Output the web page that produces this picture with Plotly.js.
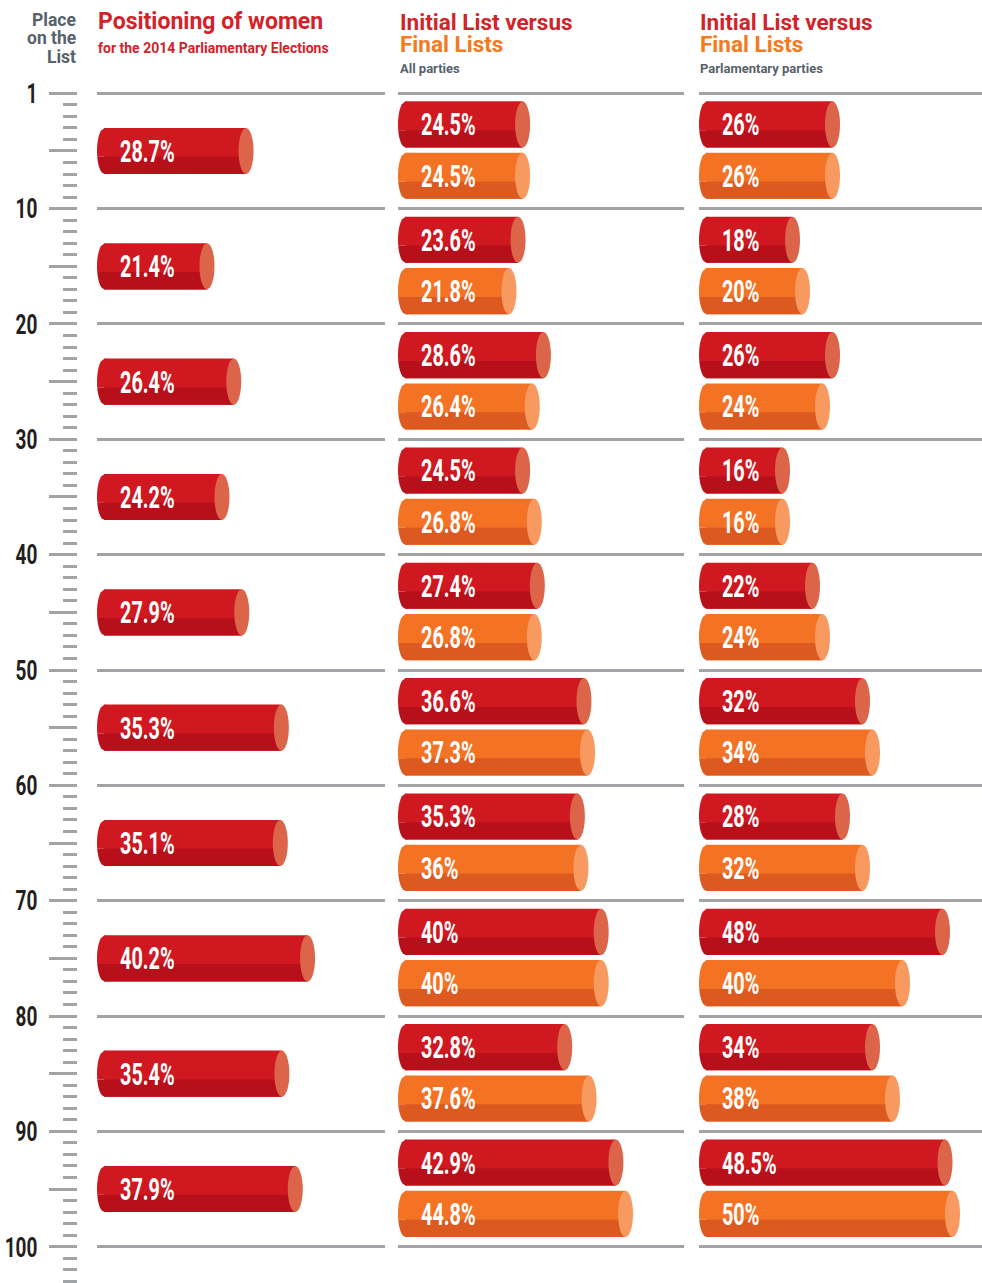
<!DOCTYPE html>
<html><head><meta charset="utf-8">
<script src="https://cdn.plot.ly/plotly-3.0.1.min.js"></script>
<style>html,body{margin:0;padding:0;background:#fff}#chart{width:982px;height:1283px}</style>
</head><body><div id="chart"></div>
<script>
// ---------- DATA ----------
const placeGroups = ['1-10','11-20','21-30','31-40','41-50','51-60','61-70','71-80','81-90','91-100'];
const placeTickVals = [0,10,20,30,40,50,60,70,80,90,100];
const placeTickText = ['1','10','20','30','40','50','60','70','80','90','100'];
const positioningWomen = [28.7, 21.4, 26.4, 24.2, 27.9, 35.3, 35.1, 40.2, 35.4, 37.9];
const allPartiesInitial = [24.5, 23.6, 28.6, 24.5, 27.4, 36.6, 35.3, 40, 32.8, 42.9];
const allPartiesFinal   = [24.5, 21.8, 26.4, 26.8, 26.8, 37.3, 36, 40, 37.6, 44.8];
const parlPartiesInitial = [26, 18, 26, 16, 22, 32, 28, 48, 34, 48.5];
const parlPartiesFinal   = [26, 20, 24, 16, 24, 34, 32, 40, 38, 50];

// ---------- LAYOUT CONSTANTS ----------
const W = 982, H = 1283;
const Y0PX = 93.3, PXU = 11.534;
const yRange = [(H - Y0PX) / PXU, -Y0PX / PXU];
const RX = 7.5;          // cap ellipse half-width in px
const BAR_H = 4, DARK_H = 1.5;
const GRID = '#a2a3a6';
const NUMFONT = 'Roboto, "Open Sans", sans-serif';
const HEADFONT = 'Roboto, "Open Sans", sans-serif';
const LABEL_SQUEEZE = 0.62, TICK_SQUEEZE = 0.68;

const palette = {
  red:    {body:'#cf1820', dark:'#b8101b', cap:'#dc6449'},
  orange: {body:'#f37224', dark:'#dc5a1f', cap:'#f89a5f'}
};

const panels = [
  {xa:'x',  ya:'y',  dom:[97,385],  zeroPx:92.5,  scale:5.35,
   series:[{vals:positioningWomen, col:'red', off:5}]},
  {xa:'x2', ya:'y2', dom:[398,684], zeroPx:398.4, scale:5.07,
   series:[{vals:allPartiesInitial, col:'red', off:2.7},{vals:allPartiesFinal, col:'orange', off:7.15}]},
  {xa:'x3', ya:'y3', dom:[699,982], zeroPx:702.5, scale:5.0,
   series:[{vals:parlPartiesInitial, col:'red', off:2.7},{vals:parlPartiesFinal, col:'orange', off:7.15}]}
];

const traces = [], shapes = [], annotations = [];
const fmt = v => String(v) + '%';

function leftArc(yc, vTop, vBot, ry) {
  const n = 10, pts = [];
  for (let i = 0; i <= n; i++) {
    const v = vTop + (vBot - vTop) * i / n;
    const t = Math.max(0, 1 - Math.pow((v - yc) / ry, 2));
    pts.push([-RX * Math.sqrt(t), v]);
  }
  let d = `M 1,${vTop}`;
  pts.forEach(p => { d += ` L ${p[0].toFixed(2)},${p[1].toFixed(3)}`; });
  d += ` L 1,${vBot} Z`;
  return d;
}

panels.forEach(p => {
  const base = (p.dom[0] + RX - p.zeroPx) / p.scale;
  p.range = [(p.dom[0] - p.zeroPx) / p.scale, (p.dom[1] - p.zeroPx) / p.scale];
  p.series.forEach(s => {
    const c = palette[s.col];
    const yc = placeGroups.map((g, i) => i * 10 + s.off);
    traces.push({type:'bar', orientation:'h', xaxis:p.xa, yaxis:p.ya,
      y: yc, x: s.vals.map(v => v - base), base: base, width: BAR_H,
      marker:{color:c.body, line:{width:0}}, hoverinfo:'skip', showlegend:false});
    traces.push({type:'bar', orientation:'h', xaxis:p.xa, yaxis:p.ya,
      y: yc.map(v => v + BAR_H/2 - DARK_H/2), x: s.vals.map(v => v - base), base: base, width: DARK_H,
      marker:{color:c.dark, line:{width:0}}, hoverinfo:'skip', showlegend:false});
    s.vals.forEach((v, i) => {
      const y = yc[i];
      const split = y + BAR_H/2 - DARK_H;
      shapes.push({type:'path', xref:p.xa, yref:p.ya, xsizemode:'pixel', xanchor:base,
        path:leftArc(y, y - BAR_H/2, split, BAR_H/2), fillcolor:c.body, line:{width:0}});
      shapes.push({type:'path', xref:p.xa, yref:p.ya, xsizemode:'pixel', xanchor:base,
        path:leftArc(y, split, y + BAR_H/2, BAR_H/2), fillcolor:c.dark, line:{width:0}});
      shapes.push({type:'circle', xref:p.xa, yref:p.ya, xsizemode:'pixel', xanchor:v,
        x0:-RX, x1:RX, y0:y - BAR_H/2, y1:y + BAR_H/2, fillcolor:c.cap, line:{width:0}});
      annotations.push({xref:p.xa, yref:p.ya, x:base, y:y, xshift:13, yshift:0,
        xanchor:'left', yanchor:'middle', showarrow:false, text:fmt(v),
        font:{family:NUMFONT, size:32, color:'#ffffff', weight:700}});
    });
  });
});
const N_BAR_LABELS = annotations.length;

// invisible trace to keep the 5-step tick axis alive
traces.push({type:'scatter', x:[], y:[], xaxis:'x', yaxis:'y4', hoverinfo:'skip', showlegend:false});

// ---------- HEADERS ----------
const py = px => 1 - px / H;
function head(text, xpx, baselinePx, size, color, anchor) {
  annotations.push({xref:'paper', yref:'paper', x:xpx / W, y:py(baselinePx - size * 0.36),
    xanchor:anchor || 'left', yanchor:'middle', showarrow:false, text:text, align:anchor || 'left',
    font:{family:HEADFONT, size:size, color:color, weight:700}});
}
const RED = '#d2232a', ORANGE = '#f47a20', GRAY = '#56626b';
head('Place', 78, 26.7, 17.5, GRAY, 'right');
head('on the', 78, 44.7, 17.5, GRAY, 'right');
head('List', 78, 63, 17.5, GRAY, 'right');
head('Positioning of women', 96, 30, 23, RED);
head('for the 2014 Parliamentary Elections', 96, 53, 14, RED);
head('Initial List versus', 398, 30.5, 22.5, RED);
head('Final Lists', 398, 52.3, 22.5, ORANGE);
head('All parties', 398, 72.7, 13, GRAY);
head('Initial List versus', 698, 30.5, 22.5, RED);
head('Final Lists', 698, 52.3, 22.5, ORANGE);
head('Parlamentary parties', 698, 72.7, 13, GRAY);

// ---------- AXES ----------
const minorVals = [];
for (let v = 1; v <= 103; v++) if (v % 5 !== 0) minorVals.push(v);
const fiveVals = [];
for (let v = 5; v <= 95; v += 10) fiveVals.push(v);

const layout = {
  width: W, height: H, margin:{l:0, r:0, t:0, b:0},
  paper_bgcolor:'#ffffff', plot_bgcolor:'rgba(0,0,0,0)',
  barmode:'overlay', showlegend:false, hovermode:false,
  shapes: shapes, annotations: annotations,
  yaxis: {range:yRange, anchor:'free', position:77 / W, side:'left',
    tickmode:'array', tickvals:placeTickVals, ticktext:placeTickText,
    ticks:'outside', ticklen:28, tickwidth:3, tickcolor:GRID, ticklabelstandoff:6,
    tickfont:{family:NUMFONT, size:28, color:'#231f20', weight:700},
    showgrid:true, gridcolor:GRID, gridwidth:3, zeroline:false, showline:false,
    minor:{tickmode:'array', tickvals:minorVals, ticks:'outside', ticklen:14, tickwidth:3, tickcolor:GRID, showgrid:false},
    fixedrange:true},
  yaxis4: {range:yRange, overlaying:'y', anchor:'free', position:77 / W, side:'left',
    tickmode:'array', tickvals:fiveVals, ticktext:fiveVals.map(() => ''),
    ticks:'outside', ticklen:28, tickwidth:3, tickcolor:GRID, showticklabels:false,
    showgrid:false, zeroline:false, showline:false, fixedrange:true}
};
panels.forEach((p, i) => {
  const n = i === 0 ? '' : String(i + 1);
  layout['xaxis' + n] = {domain:[p.dom[0] / W, p.dom[1] / W], range:p.range, anchor:'y' + n,
    visible:false, fixedrange:true};
  if (i > 0) {
    layout['yaxis' + n] = {range:yRange, anchor:'x' + n, tickmode:'array', tickvals:placeTickVals,
      showticklabels:false, ticks:'', showgrid:true, gridcolor:GRID, gridwidth:3,
      zeroline:false, showline:false, fixedrange:true};
  }
});

// condense a text element horizontally (the reference uses a condensed typeface)
function squeeze(el, sx, anchorRight) {
  const bb = el.getBBox();
  const x0 = anchorRight ? bb.x + bb.width : bb.x;
  const prev = el.getAttribute('transform') || '';
  el.setAttribute('transform', (prev + ` translate(${x0 * (1 - sx)},0) scale(${sx},1)`).trim());
}

Plotly.newPlot('chart', traces, layout, {staticPlot:true, displayModeBar:false}).then(gd => {
  gd.querySelectorAll('g.annotation').forEach(g => {
    const idx = +g.getAttribute('data-index');
    if (idx < N_BAR_LABELS) {
      const t = g.querySelector('text.annotation-text');
      if (t) squeeze(t, LABEL_SQUEEZE, false);
    }
  });
  gd.querySelectorAll('.yaxislayer-above .ytick text').forEach(t => squeeze(t, TICK_SQUEEZE, true));
});
</script>
</body></html>
